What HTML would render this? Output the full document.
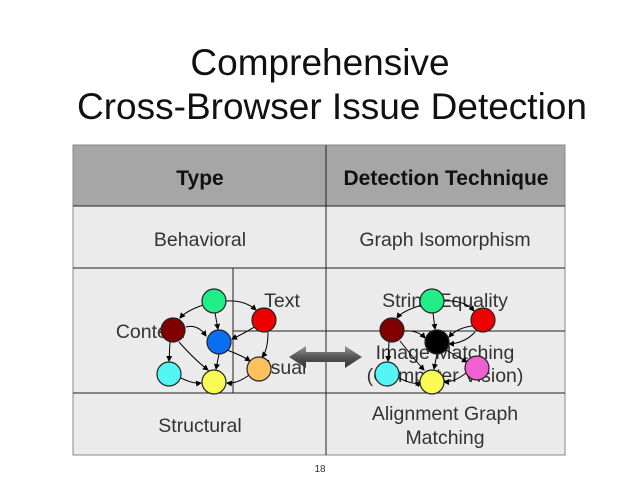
<!DOCTYPE html>
<html><head><meta charset="utf-8"><style>
body{margin:0;background:#fff;}
svg{display:block;font-family:"Liberation Sans",sans-serif;}
</style></head><body>
<svg width="638" height="493" viewBox="0 0 638 493" xmlns="http://www.w3.org/2000/svg">
<defs>
<marker id="a" markerWidth="6" markerHeight="6" refX="5" refY="3" orient="auto"><path d="M0,0 L6,3 L0,6 z" fill="#000"/></marker>
<linearGradient id="g" x1="0" y1="0" x2="0" y2="1"><stop offset="0" stop-color="#999"/><stop offset="0.5" stop-color="#555"/><stop offset="1" stop-color="#333"/></linearGradient>
</defs>
<text x="320" y="75" font-size="37" text-anchor="middle" fill="#111">Comprehensive</text>
<text x="332" y="119" font-size="37" text-anchor="middle" fill="#111">Cross-Browser Issue Detection</text>
<rect x="73" y="145" width="492" height="61" fill="#a6a6a6"/>
<rect x="73" y="206" width="492" height="249" fill="#ebebeb"/>
<g stroke="#222" stroke-width="1" fill="none">
<rect x="73" y="145" width="492" height="310" stroke="#888"/>
<line x1="73" y1="206" x2="565" y2="206"/>
<line x1="73" y1="268" x2="565" y2="268"/>
<line x1="73" y1="393" x2="565" y2="393"/>
<line x1="233" y1="331" x2="565" y2="331"/>
<line x1="233" y1="268" x2="233" y2="393"/>
<line x1="326" y1="145" x2="326" y2="455"/>
</g>
<g font-size="21" font-weight="bold" text-anchor="middle" fill="#111">
<text x="200" y="185">Type</text><text x="446" y="185">Detection Technique</text></g>
<g font-size="19.5" text-anchor="middle" fill="#333">
<text x="200" y="246">Behavioral</text><text x="445" y="246">Graph Isomorphism</text>
<text x="282" y="307">Text</text>
<text x="150" y="338">Content</text>
<text x="280" y="374">Visual</text>
<text x="445" y="307">String Equality</text>
<text x="445" y="359">Image Matching</text>
<text x="445" y="382">(Computer Vision)</text>
<text x="200" y="432">Structural</text>
<text x="445" y="420">Alignment Graph</text>
<text x="445" y="444">Matching</text>
</g>
<text x="320" y="472" font-size="10" text-anchor="middle" fill="#333">18</text>
<g stroke="#000" stroke-width="1" fill="none" marker-end="url(#a)">
<path d="M226,301 Q245,300 256,310"/><path d="M203,305 Q186,311 180,318"/><path d="M215,313 L218,329"/>
<path d="M186,327 Q198,324 206,336"/><path d="M256,326 Q245,333 232,339"/><path d="M268,332 Q268,350 262,357"/>
<path d="M170,342 L169,361"/><path d="M179,342 Q195,360 208,370"/><path d="M219,354 L216,369"/>
<path d="M227,350 Q243,356 250,361"/><path d="M181,378 Q193,384 201,383"/><path d="M249,375 Q237,384 227,383"/>
<path d="M422,305 Q402,311 397,318"/><path d="M433,313 L435,329"/><path d="M444,301 Q465,300 474,311"/>
<path d="M404,331 Q418,330 425,338"/><path d="M472,326 Q457,328 449,337"/><path d="M475,332 Q465,343 449,344"/>
<path d="M389,342 L388,361"/><path d="M400,341 Q415,360 424,370"/><path d="M437,354 L434,369"/>
<path d="M446,350 Q460,358 467,362"/><path d="M399,378 Q415,386 421,382"/><path d="M466,373 Q455,382 444,382"/>
</g>
<g stroke="#222" stroke-width="1.2">
<circle cx="214" cy="301" r="12" fill="#22ee88"/><circle cx="173" cy="330" r="12" fill="#800000"/>
<circle cx="219" cy="342" r="12" fill="#0a6ef0"/><circle cx="264" cy="320" r="12" fill="#ee0000"/>
<circle cx="169" cy="374" r="12" fill="#55f5f5"/><circle cx="214" cy="382" r="12" fill="#fafa55"/>
<circle cx="259" cy="369" r="12" fill="#ffc060"/>
<circle cx="432" cy="301" r="12" fill="#22ee88"/><circle cx="392" cy="330" r="12" fill="#800000"/>
<circle cx="437" cy="342" r="12" fill="#000"/><circle cx="483" cy="320" r="12" fill="#ee0000"/>
<circle cx="387" cy="374" r="12" fill="#55f5f5"/><circle cx="432" cy="382" r="12" fill="#fafa55"/>
<circle cx="477" cy="368" r="12" fill="#f060d0"/>
</g>
<path d="M289,357 L306,346 L306,352 L345,352 L345,346 L362,357 L345,368 L345,362 L306,362 L306,368 Z" fill="url(#g)"/>
</svg>
</body></html>
